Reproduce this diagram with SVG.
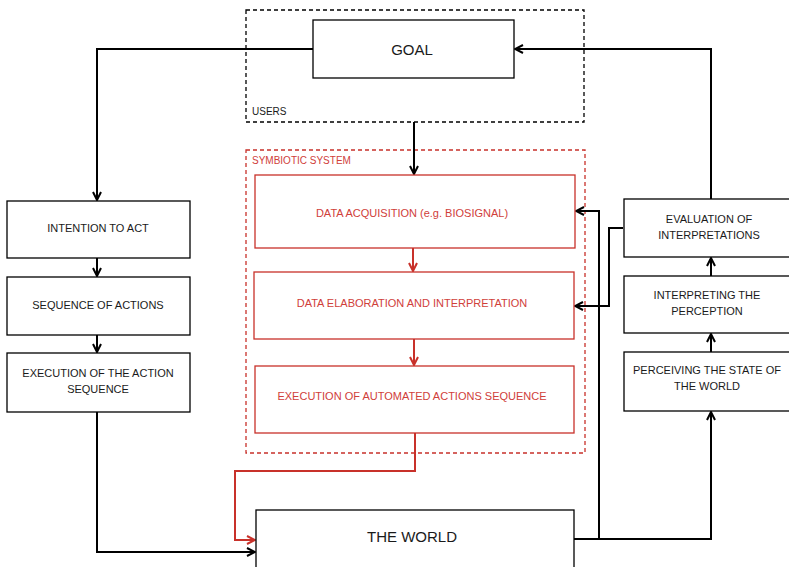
<svg xmlns="http://www.w3.org/2000/svg" width="789" height="567" viewBox="0 0 789 567">
<style>
.box{fill:#fff;stroke:#000;stroke-width:1.3}
.rbox{fill:#fff;stroke:#c8312a;stroke-width:1.3}
.t{font-family:"Liberation Sans",Arial,sans-serif;font-size:11px;fill:#1a1a1a;text-anchor:middle}
.rt{font-family:"Liberation Sans",Arial,sans-serif;font-size:11px;fill:#d0403a;text-anchor:middle}
.big{font-family:"Liberation Sans",Arial,sans-serif;font-size:15px;fill:#1a1a1a;text-anchor:middle}
.c{fill:none;stroke:#000;stroke-width:2}
.rc{fill:none;stroke:#c8312a;stroke-width:2}
</style>
<defs>
<marker id="a" viewBox="0 0 10 10" refX="9" refY="5" markerWidth="5" markerHeight="5" orient="auto" markerUnits="strokeWidth">
<polyline points="1,1 9,5 1,9" fill="none" stroke="#000" stroke-width="2"/>
</marker>
<marker id="ar" viewBox="0 0 10 10" refX="9" refY="5" markerWidth="5" markerHeight="5" orient="auto" markerUnits="strokeWidth">
<polyline points="1,1 9,5 1,9" fill="none" stroke="#c8312a" stroke-width="2"/>
</marker>
</defs>
<rect width="789" height="567" fill="#fff"/>
<g id="users">
<rect x="246" y="10" width="338" height="112" fill="none" stroke="#000" stroke-width="1.3" stroke-dasharray="4,3"/>
<text x="252" y="115" font-family="Liberation Sans,Arial,sans-serif" font-size="10" fill="#1a1a1a">USERS</text>
</g>
<g id="symbiotic">
<rect x="246" y="150" width="339" height="303" fill="none" stroke="#c8312a" stroke-width="1.3" stroke-dasharray="4,3"/>
<text x="252" y="164" font-family="Liberation Sans,Arial,sans-serif" font-size="10" fill="#d0403a">SYMBIOTIC SYSTEM</text>
</g>
<g id="connectors">
<polyline class="c" points="313,49 97,49 97,200" marker-end="url(#a)"/>
<polyline class="c" points="711,199 711,49 515,49" marker-end="url(#a)"/>
<polyline class="c" points="414,122 414,174" marker-end="url(#a)"/>
<polyline class="c" points="97,258 97,276" marker-end="url(#a)"/>
<polyline class="c" points="97,335 97,352" marker-end="url(#a)"/>
<polyline class="c" points="97,412 97,552 255,552" marker-end="url(#a)"/>
<polyline class="rc" points="413,248 413,271" marker-end="url(#ar)"/>
<polyline class="rc" points="414,339 414,365" marker-end="url(#ar)"/>
<polyline class="rc" points="415,433 415,471 235,471 235,540 255,540" marker-end="url(#ar)"/>
<polyline class="c" points="574,539 711,539 711,412" marker-end="url(#a)"/>
<polyline class="c" points="599,539 599,211 576,211" marker-end="url(#a)"/>
<polyline class="c" points="623,228 609,228 609,306 575,306" marker-end="url(#a)"/>
<polyline class="c" points="711,276 711,258" marker-end="url(#a)"/>
<polyline class="c" points="711,352 711,334" marker-end="url(#a)"/>
</g>
<g id="goal"><rect class="box" x="313" y="20" width="201" height="58"/><text class="big" x="412" y="55">GOAL</text></g>
<g id="intention"><rect class="box" x="7" y="201" width="183" height="57"/><text class="t" x="98" y="232">INTENTION TO ACT</text></g>
<g id="sequence"><rect class="box" x="7" y="277" width="183" height="58"/><text class="t" x="98" y="309">SEQUENCE OF ACTIONS</text></g>
<g id="execution"><rect class="box" x="7" y="353" width="183" height="59"/><text class="t" x="98" y="377">EXECUTION OF THE ACTION</text><text class="t" x="98" y="393">SEQUENCE</text></g>
<g id="acquisition"><rect class="rbox" x="255" y="175" width="320" height="73"/><text class="rt" x="412" y="217">DATA ACQUISITION (e.g. BIOSIGNAL)</text></g>
<g id="elaboration"><rect class="rbox" x="254" y="272" width="320" height="67"/><text class="rt" x="412" y="307">DATA ELABORATION AND INTERPRETATION</text></g>
<g id="automated"><rect class="rbox" x="255" y="366" width="319" height="67"/><text class="rt" x="412" y="400">EXECUTION OF AUTOMATED ACTIONS SEQUENCE</text></g>
<g id="evaluation"><rect class="box" x="624" y="199" width="170" height="58"/><text class="t" x="709" y="223">EVALUATION OF</text><text class="t" x="709" y="239">INTERPRETATIONS</text></g>
<g id="interpreting"><rect class="box" x="624" y="276" width="170" height="57"/><text class="t" x="707" y="299">INTERPRETING THE</text><text class="t" x="707" y="315">PERCEPTION</text></g>
<g id="perceiving"><rect class="box" x="624" y="352" width="170" height="59"/><text class="t" x="707" y="374">PERCEIVING THE STATE OF</text><text class="t" x="707" y="390">THE WORLD</text></g>
<g id="world"><rect class="box" x="256" y="510" width="318" height="70"/><text class="big" x="412" y="542">THE WORLD</text></g>
</svg>
